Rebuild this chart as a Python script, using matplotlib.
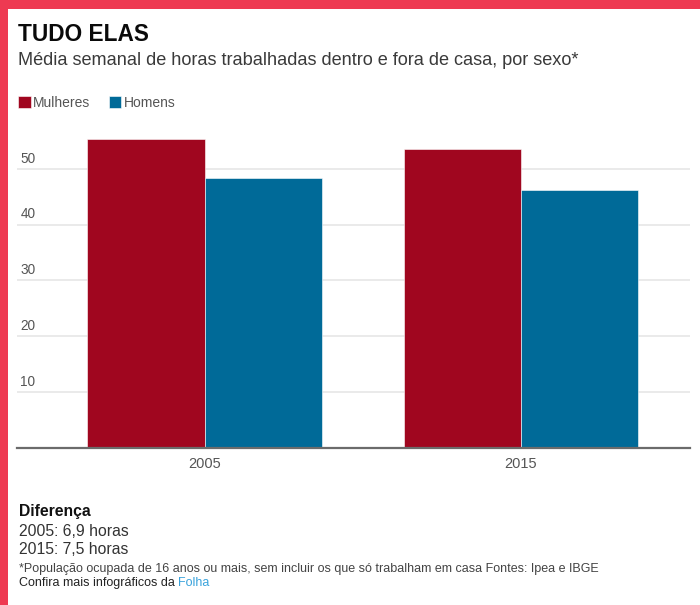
import matplotlib
matplotlib.use("Agg")
import matplotlib.pyplot as plt
from matplotlib.patches import Rectangle
from matplotlib.transforms import ScaledTranslation
import numpy as np

plt.rcParams['font.family'] = ['Liberation Sans', 'DejaVu Sans']

# ---- data ----
years = ["2005", "2015"]
mulheres = [55.3, 53.6]
homens = [48.4, 46.1]
series_labels = ["Mulheres", "Homens"]
yticks = [10, 20, 30, 40, 50]

title = "TUDO ELAS"
subtitle = "Média semanal de horas trabalhadas dentro e fora de casa, por sexo*"
diff_title = "Diferença"
diff_lines = ["2005: 6,9 horas", "2015: 7,5 horas"]
footnote = "*População ocupada de 16 anos ou mais, sem incluir os que só trabalham em casa Fontes: Ipea e IBGE"
confira = "Confira mais infográficos da "
folha = "Folha"

# ---- style ----
RED = "#A0061F"
BLUE = "#006A98"
BORDER = "#EE3A52"
GRID = "#E6E6E6"
TXT = "#555555"

W, H = 700, 605
fig = plt.figure(figsize=(W / 100, H / 100), dpi=100)
fig.patch.set_facecolor("white")

def fx(px):
    return px / W

def fy(py):
    return 1 - py / H

# border (top and left)
fig.patches.append(Rectangle((0, fy(9)), 1, 9 / H, transform=fig.transFigure,
                             facecolor=BORDER, edgecolor="none", zorder=0))
fig.patches.append(Rectangle((0, 0), 7.5 / W, 1, transform=fig.transFigure,
                             facecolor=BORDER, edgecolor="none", zorder=0))

# axes
ymax = 56
ppu = 5.575
base_px = 447.5
top_px = base_px - ymax * ppu
ax = fig.add_axes([fx(17), fy(base_px), fx(690 - 17), (base_px - top_px) / H])

x = np.arange(len(years))
bw = 0.37
b1 = ax.bar(x - bw / 2, mulheres, bw, color=RED, label=series_labels[0],
            edgecolor="white", linewidth=0.4, zorder=3)
b2 = ax.bar(x + bw / 2, homens, bw, color=BLUE, label=series_labels[1],
            edgecolor="white", linewidth=0.4, zorder=3)

left_units = (204.5 - 17) / 316.5
right_units = (690 - 521) / 316.5
ax.set_xlim(-left_units, 1 + right_units)
ax.set_ylim(0, ymax)

ax.set_yticks(yticks)
ax.set_yticklabels([str(t) for t in yticks])
ax.yaxis.grid(True, color=GRID, linewidth=1.2, zorder=0)
ax.set_axisbelow(True)
ax.tick_params(axis="y", length=0, pad=-2.5, labelsize=9.8, labelcolor=TXT)
for lab in ax.get_yticklabels():
    lab.set_ha("left")
    lab.set_va("bottom")
    lab.set_transform(lab.get_transform() + ScaledTranslation(0, 3 / 100, fig.dpi_scale_trans))

ax.set_xticks(x)
ax.set_xticklabels(years)
ax.tick_params(axis="x", length=0, pad=7, labelsize=10.5, labelcolor=TXT)

for s in ["top", "right", "left"]:
    ax.spines[s].set_visible(False)
ax.spines["bottom"].set_color("#6b6b6b")
ax.spines["bottom"].set_linewidth(1.6)
ax.spines["bottom"].set_zorder(4)

# legend
leg = fig.legend(handles=[b1, b2], labels=series_labels, loc="upper left",
                 bbox_to_anchor=(fx(18), fy(96)), ncol=2, frameon=False,
                 fontsize=10, handlelength=0.9, handleheight=0.9,
                 handletextpad=0.2, columnspacing=1.3, borderpad=0,
                 borderaxespad=0)
for t in leg.get_texts():
    t.set_color(TXT)

# texts
fig.text(fx(18), fy(41), title, fontsize=16.3, fontweight="bold", color="#0a0a0a", va="baseline")
fig.text(fx(18), fy(65), subtitle, fontsize=13.1, color="#3a3a3a", va="baseline")
fig.text(fx(19), fy(516), diff_title, fontsize=11.3, fontweight="bold", color="#111111", va="baseline")
fig.text(fx(19), fy(536), diff_lines[0], fontsize=11.3, color="#333333", va="baseline")
fig.text(fx(19), fy(554), diff_lines[1], fontsize=11.3, color="#333333", va="baseline")
fig.text(fx(19), fy(572), footnote, fontsize=9.0, color="#444444", va="baseline")
t_conf = fig.text(fx(19), fy(586), confira, fontsize=9.0, color="#222222", va="baseline")
fig.canvas.draw()
bb = t_conf.get_window_extent()
fig.text(bb.x1 / W, fy(586), folha, fontsize=9.0, color="#3AA3DC", va="baseline")

fig.savefig("out.png", dpi=100, facecolor="white")
